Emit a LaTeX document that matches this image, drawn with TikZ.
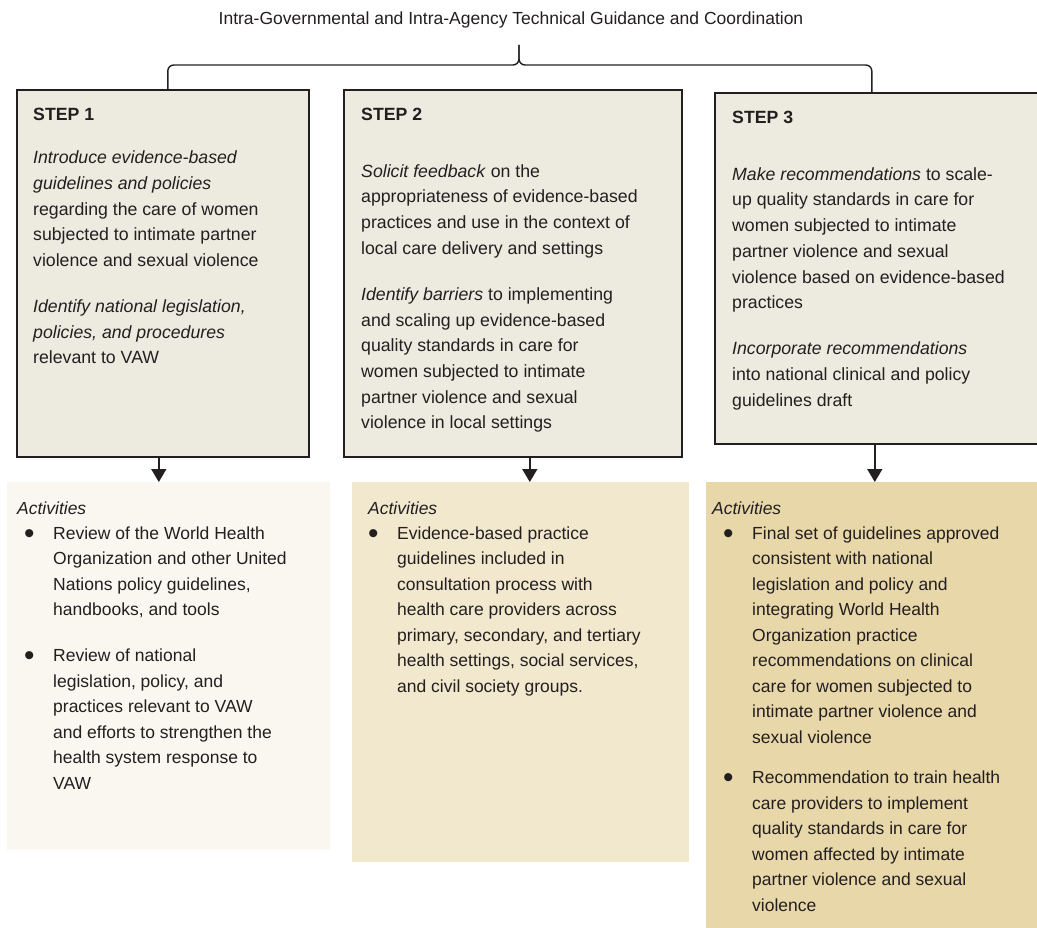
\documentclass[tikz,border=0pt]{standalone}
\usepackage{fontspec}
\usepackage{graphicx}
\setmainfont{Liberation Sans}
\usetikzlibrary{arrows.meta,calc}
\definecolor{ink}{HTML}{231F20}
\definecolor{stepfill}{HTML}{EDEAE0}
\definecolor{actA}{HTML}{F9F7EF}
\definecolor{actB}{HTML}{F2E8CD}
\definecolor{actC}{HTML}{E8D7A9}
\tikzset{
  stepbox/.style={draw=ink, line width=1.6pt, fill=stepfill, rectangle, anchor=north west, inner sep=0pt},
  actbox/.style={fill=#1, draw=none, rectangle, anchor=north west, inner sep=0pt},
  bodytext/.style={anchor=north west, inner sep=0pt, align=left, text=ink, font=\fontsize{17.7pt}{25.7pt}\selectfont},
  acttext/.style={anchor=north west, inner sep=0pt, align=left, text=ink, font=\fontsize{17.5pt}{25.5pt}\selectfont},
  conn/.style={draw=ink, line width=1.4pt},
  arr/.style={draw=ink, line width=1.7pt, -{Triangle[width=15pt,length=13pt]}},
}
\newcommand{\fl}{\rule{0pt}{14pt}}
\newcommand{\bul}{\llap{\raisebox{-4pt}{\scalebox{1.7}{\textbullet}}\hspace{18.7pt}}}
\begin{document}
\begin{tikzpicture}[x=1pt,y=-1pt]
\clip (0,0) rectangle (1037,928);
\fill[white] (0,0) rectangle (1037,928);

% title
\node[anchor=base, inner sep=0pt, text=ink, font=\fontsize{17.5pt}{21pt}\selectfont] (title) at (511,25)
  {Intra-Governmental and Intra-Agency Technical Guidance and Coordination};

% step boxes
\node[stepbox, minimum width=292pt, minimum height=367pt] (s1) at (16,89) {};
\node[stepbox, minimum width=338pt, minimum height=367pt] (s2) at (343,89) {};
\node[stepbox, minimum width=331pt, minimum height=351pt] (s3) at (714,92) {};

% activity boxes
\node[actbox=actA, minimum width=323pt, minimum height=368pt] (a1) at (7,482) {};
\node[actbox=actB, minimum width=337pt, minimum height=380pt] (a2) at (352,482) {};
\node[actbox=actC, minimum width=340pt, minimum height=450pt] (a3) at (706,482) {};

% brace
\coordinate (mid) at (519,65);
\coordinate (tip) at (519,45);
\draw[conn, rounded corners=6pt] ([xshift=5pt]s1.north) |- (mid) -- (tip);
\draw[conn, rounded corners=6pt] ([xshift=-8.5pt]s3.north) |- (mid) -- (tip);

% arrows
\draw[arr] ([xshift=-4pt]s1.south) -- ([xshift=-4pt]s1.south |- a1.north);
\draw[arr] ([xshift=17pt]s2.south) -- ([xshift=17pt]s2.south |- a2.north);
\draw[arr] ([xshift=-5.5pt]s3.south) -- ([xshift=-5.5pt]s3.south |- a3.north);

% step texts
\node[bodytext] (t1) at (33,106) {\fl\textbf{STEP 1}\\[17.8pt]
\textit{Introduce evidence-based}\\
\textit{guidelines and policies}\\
regarding the care of women\\
subjected to intimate partner\\
violence and sexual violence\\[20.3pt]
\textit{Identify national legislation,}\\
\textit{policies, and procedures}\\
relevant to VAW};

\node[bodytext] (t2) at (361,106) {\fl\textbf{STEP 2}\\[31.3pt]
\textit{Solicit feedback} on the\\
appropriateness of evidence-based\\
practices and use in the context of\\
local care delivery and settings\\[20.3pt]
\textit{Identify barriers} to implementing\\
and scaling up evidence-based\\
quality standards in care for\\
women subjected to intimate\\
partner violence and sexual\\
violence in local settings};

\node[bodytext] (t3) at (732,109) {\fl\textbf{STEP 3}\\[31.3pt]
\textit{Make recommendations} to scale-\\
up quality standards in care for\\
women subjected to intimate\\
partner violence and sexual\\
violence based on evidence-based\\
practices\\[20.3pt]
\textit{Incorporate recommendations}\\
into national clinical and policy\\
guidelines draft};

% activities texts
\node[acttext] (h1) at (17,500) {\fl\textit{Activities}};
\node[acttext] (i11) at (53,525) {\fl\bul Review of the World Health\\
Organization and other United\\
Nations policy guidelines,\\
handbooks, and tools};
\node[acttext] (i12) at (53,647.5) {\fl\bul Review of national\\
legislation, policy, and\\
practices relevant to VAW\\
and efforts to strengthen the\\
health system response to\\
VAW};

\node[acttext] (h2) at (368,500) {\fl\textit{Activities}};
\node[acttext] (i21) at (397,525) {\fl\bul Evidence-based practice\\
guidelines included in\\
consultation process with\\
health care providers across\\
primary, secondary, and tertiary\\
health settings, social services,\\
and civil society groups.};

\node[acttext] (h3) at (712,500) {\fl\textit{Activities}};
\node[acttext] (i31) at (752,525) {\fl\bul Final set of guidelines approved\\
consistent with national\\
legislation and policy and\\
integrating World Health\\
Organization practice\\
recommendations on clinical\\
care for women subjected to\\
intimate partner violence and\\
sexual violence};
\node[acttext] (i32) at (752,769.5) {\fl\bul Recommendation to train health\\
care providers to implement\\
quality standards in care for\\
women affected by intimate\\
partner violence and sexual\\
violence};
\end{tikzpicture}
\end{document}
